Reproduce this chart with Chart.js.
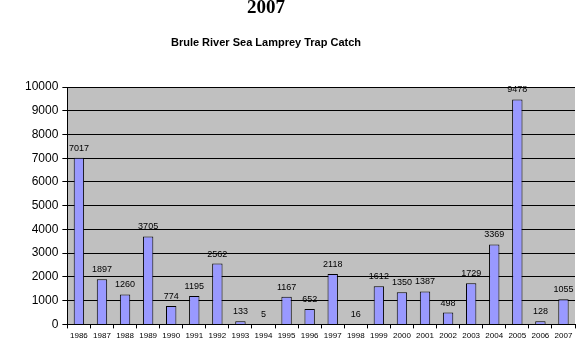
<!DOCTYPE html>
<html>
<head>
<meta charset="utf-8">
<script src="https://cdn.jsdelivr.net/npm/chart.js@4/dist/chart.umd.min.js"></script>
<style>
  html, body { margin: 0; padding: 0; background: #fff; }
  #wrap { width: 582px; height: 354px; }
</style>
</head>
<body>
<div id="wrap"><canvas id="chart"></canvas></div>
<script>
"use strict";

// ── Data ──────────────────────────────────────────────────────────
const YEARS  = ["1986","1987","1988","1989","1990","1991","1992","1993","1994","1995","1996",
                "1997","1998","1999","2000","2001","2002","2003","2004","2005","2006","2007"];
const CATCH  = [7017, 1897, 1260, 3705, 774, 1195, 2562, 133, 5, 1167, 652,
                2118, 16, 1612, 1350, 1387, 498, 1729, 3369, 9478, 128, 1055];
const TITLE    = "2007";
const SUBTITLE = "Brule River Sea Lamprey Trap Catch";

const BAR_FILL = "#9999ff";
const PLOT_BG  = "#c0c0c0";
const SANS     = "'Liberation Sans', Arial, sans-serif";

// ── Plugins ───────────────────────────────────────────────────────
const plotBg = {
  id: "plotBg",
  beforeDraw(chart) {
    const { ctx, chartArea: a } = chart;
    ctx.save();
    ctx.fillStyle = PLOT_BG;
    ctx.fillRect(a.left, a.top, a.right - a.left, a.bottom - a.top);
    ctx.restore();
  }
};

const titles = {
  id: "titles",
  afterDraw(chart) {
    const ctx = chart.ctx;
    ctx.save();
    ctx.fillStyle = "#000";
    ctx.textAlign = "center";
    ctx.textBaseline = "middle";
    ctx.font = "bold 19px 'Liberation Serif', 'Times New Roman', serif";
    ctx.fillText(TITLE, 266, 8);
    ctx.font = "bold 11px " + SANS;
    ctx.fillText(SUBTITLE, 266, 43);
    ctx.restore();
  }
};

const valueLabels = {
  id: "valueLabels",
  afterDatasetsDraw(chart) {
    const ctx = chart.ctx;
    const meta = chart.getDatasetMeta(0);
    ctx.save();
    ctx.fillStyle = "#000";
    ctx.textAlign = "center";
    ctx.textBaseline = "bottom";
    ctx.font = "9px " + SANS;
    meta.data.forEach((bar, i) => {
      ctx.fillText(String(CATCH[i]), bar.x, bar.y - 5);
    });
    ctx.restore();
  }
};

// ── Chart ─────────────────────────────────────────────────────────
new Chart(document.getElementById("chart"), {
  type: "bar",
  data: {
    labels: YEARS,
    datasets: [{
      label: "Catch",
      data: CATCH,
      backgroundColor: BAR_FILL,
      borderColor: "#000",
      borderWidth: 1,
      barPercentage: 0.5,
      categoryPercentage: 0.9
    }]
  },
  options: {
    responsive: true, maintainAspectRatio: false,
    animation: false,
    layout: { padding: { top: 87, right: 7, bottom: 10, left: 21 } },
    plugins: {
      legend: { display: false },
      tooltip: { enabled: false }
    },
    scales: {
      y: {
        min: 0, max: 10000,
        ticks: { stepSize: 1000, color: "#000", padding: 4,
                 callback: v => String(v),
                 font: { family: SANS, size: 12 } },
        grid: { color: "#000", lineWidth: 1, tickLength: 5, drawTicks: true },
        border: { display: true, color: "#000" }
      },
      x: {
        ticks: { color: "#000", autoSkip: false, maxRotation: 0, padding: 3,
                 font: { family: SANS, size: 8 } },
        grid: { offset: true, drawOnChartArea: false, color: "#000", tickLength: 4 },
        border: { display: true, color: "#000" }
      }
    }
  },
  plugins: [plotBg, valueLabels, titles]
});
</script>
</body>
</html>
